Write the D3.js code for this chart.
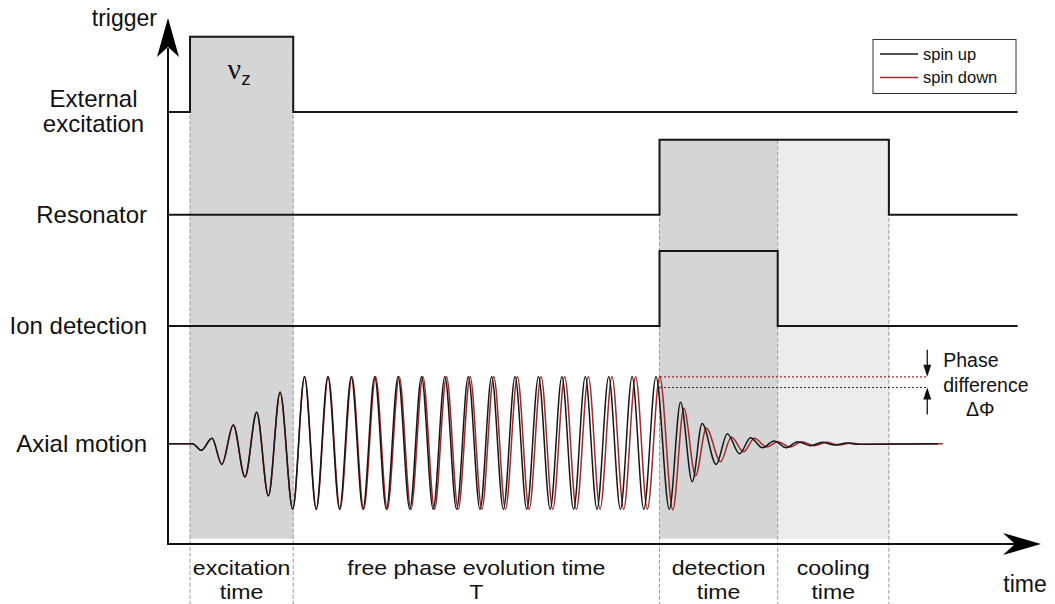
<!DOCTYPE html>
<html>
<head>
<meta charset="utf-8">
<script src="https://cdn.jsdelivr.net/npm/d3@7"></script>
<style>
  html, body { margin: 0; padding: 0; background: #fff; }
  svg { display: block; }
  text { font-family: "Liberation Sans", Arial, Helvetica, sans-serif; fill: #111; }
</style>
</head>
<body>
<svg id="chart" width="1055" height="604"></svg>
<script>
// ---------------- data (time in axial periods, levels in arbitrary units) ----------------
const channelNames = ["External excitation", "Resonator", "Ion detection", "Axial motion"];
const channelBase = [5.75, 4.38, 2.90, 1.335];
const pulseOn = [0.94, 21.0, 21.0];
const pulseOff = [5.35, 30.8, 26.05];
const pulseHeight = 1;
const traceStart = 0;
const traceEnd = 36.3;

const phaseNames = [["excitation", "time"], ["free phase evolution time", "T"], ["detection", "time"], ["cooling", "time"]];
const phaseStart = [0.94, 5.35, 21.0, 26.05];
const phaseEnd = [5.35, 21.0, 26.05, 30.8];
const phaseShadeTop = [6.75, null, 5.38, 5.38];
const phaseShadeColor = ["#d5d5d5", null, "#d5d5d5", "#ebeceb"];

const axialAmplitude = 0.89;
const spinUpT = [0, 1.05, 1.42, 1.88, 2.30, 2.79, 3.29, 3.79, 4.29, 4.79,
  5.33, 5.83, 6.33, 6.83, 7.33, 7.83, 8.33, 8.83, 9.33, 9.83, 10.33, 10.83, 11.33, 11.83,
  12.33, 12.83, 13.33, 13.83, 14.33, 14.83, 15.33, 15.83, 16.33, 16.83, 17.33, 17.83,
  18.33, 18.83, 19.33, 19.83, 20.33, 20.85,
  21.42, 21.90, 22.40, 22.82, 23.42, 23.90, 24.42, 24.89, 25.40, 25.89,
  26.42, 26.90, 27.45, 27.95, 28.50, 29.00, 29.50, 32.90];
const spinUpV = [0, 0, -0.10, 0.08, -0.31, 0.28, -0.50, 0.47, -0.78, 0.77,
  -0.98, 1.0, -0.98, 1.0, -0.98, 1.0, -0.98, 1.0, -0.98, 1.0, -0.98, 1.0, -0.98, 1.0,
  -0.98, 1.0, -0.98, 1.0, -0.98, 1.0, -0.98, 1.0, -0.98, 1.0, -0.98, 1.0,
  -0.98, 1.0, -0.98, 1.0, -0.98, 1.0,
  -0.98, 0.62, -0.57, 0.30, -0.31, 0.15, -0.15, 0.09, -0.06, 0.04,
  -0.06, 0.03, -0.03, 0.02, -0.02, 0.01, -0.01, 0];
const spinDownT = [0, 1.05, 1.42, 1.88, 2.30, 2.79, 3.29, 3.79, 4.29, 4.79,
  5.33, 5.84, 6.34, 6.85, 7.35, 7.86, 8.36, 8.87, 9.37, 9.88, 10.38, 10.89, 11.39, 11.90,
  12.40, 12.91, 13.41, 13.92, 14.42, 14.93, 15.43, 15.94, 16.44, 16.95, 17.45, 17.96,
  18.46, 18.97, 19.47, 19.98, 20.48, 21.01,
  21.57, 22.04, 22.54, 23.00, 23.61, 24.07, 24.59, 25.06, 25.58, 26.05,
  26.59, 27.07, 27.62, 28.12, 28.67, 29.17, 29.67, 33.10];
const spinDownV = [0, 0, -0.10, 0.08, -0.31, 0.28, -0.50, 0.47, -0.78, 0.77,
  -0.98, 1.0, -0.98, 1.0, -0.98, 1.0, -0.98, 1.0, -0.98, 1.0, -0.98, 1.0, -0.98, 1.0,
  -0.98, 1.0, -0.98, 1.0, -0.98, 1.0, -0.98, 1.0, -0.98, 1.0, -0.98, 1.0,
  -0.98, 1.0, -0.98, 1.0, -0.98, 1.0,
  -0.99, 0.53, -0.48, 0.23, -0.27, 0.10, -0.12, 0.08, -0.05, 0.03,
  -0.05, 0.03, -0.03, 0.02, -0.02, 0.01, -0.01, 0];

const seriesNames = ["spin up", "spin down"];
const seriesColors = ["#161616", "#a3282b"];

// phase difference marker: levels of the two traces at the start of detection
const phaseDiffStart = 21.02;
const phaseDiffEnd = 32.44;
const phaseDiffLevels = [1.0, 0.84]; // spin down, spin up
const phaseDiffText = ["Phase", "difference", "ΔΦ"];

// ---------------- drawing ----------------
const svg = d3.select("#chart");
const x = d3.scaleLinear().domain([0, 37.3]).range([168, 1041]);
const y = d3.scaleLinear().domain([0, 7]).range([544, 18]);
const axialY = v => y(channelBase[3] + axialAmplitude * v);

const lineCol = "#161616";

// shaded phases
phaseStart.forEach((s, i) => {
  if (!phaseShadeColor[i]) return;
  svg.append("rect")
    .attr("x", x(s)).attr("y", y(phaseShadeTop[i]) - 1)
    .attr("width", x(phaseEnd[i]) - x(s))
    .attr("height", y(0.07) - y(phaseShadeTop[i]) + 1)
    .attr("fill", phaseShadeColor[i]);
});

// dashed boundaries
const bounds = [0.94, 5.35, 21.0, 26.05, 30.8];
const boundTop = [6.75, 6.75, 5.38, 5.38, 5.38];
bounds.forEach((b, i) => {
  svg.append("line")
    .attr("x1", x(b)).attr("x2", x(b))
    .attr("y1", y(boundTop[i])).attr("y2", 604)
    .attr("stroke", "#9a9a9a").attr("stroke-width", 1)
    .attr("stroke-dasharray", "4,2");
});

// digital channels
const stepLine = d3.line().x(d => x(d[0])).y(d => y(d[1]));
pulseOn.forEach((on, i) => {
  const b = channelBase[i];
  const pts = [[traceStart, b], [on, b], [on, b + pulseHeight], [pulseOff[i], b + pulseHeight], [pulseOff[i], b], [traceEnd, b]];
  svg.append("path").attr("d", stepLine(pts))
    .attr("fill", "none").attr("stroke", lineCol).attr("stroke-width", 2)
    .attr("stroke-linejoin", "miter");
});

// axial motion traces
const curve = d3.line().x(d => x(d[0])).y(d => axialY(d[1])).curve(d3.curveMonotoneX);
const downPts = spinDownT.map((t, i) => [t, spinDownV[i]]);
const upPts = spinUpT.map((t, i) => [t, spinUpV[i]]);
svg.append("path").attr("d", curve(downPts)).attr("fill", "none")
  .attr("stroke", seriesColors[1]).attr("stroke-width", 1.5);
svg.append("path").attr("d", curve(upPts)).attr("fill", "none")
  .attr("stroke", seriesColors[0]).attr("stroke-width", 1.5);

// phase difference dotted lines
phaseDiffLevels.forEach((lv, i) => {
  svg.append("line")
    .attr("x1", x(phaseDiffStart)).attr("x2", x(phaseDiffEnd))
    .attr("y1", axialY(lv)).attr("y2", axialY(lv))
    .attr("stroke", i === 0 ? seriesColors[1] : "#333")
    .attr("stroke-width", 1.2).attr("stroke-dasharray", "2,2");
});
const ax = x(phaseDiffEnd);
const yTop = axialY(phaseDiffLevels[0]);
const yBot = axialY(phaseDiffLevels[1]);
svg.append("line").attr("x1", ax).attr("x2", ax).attr("y1", yTop - 27).attr("y2", yTop - 10)
  .attr("stroke", "#111").attr("stroke-width", 1.3);
svg.append("path").attr("d", `M${ax},${yTop} L${ax - 4},${yTop - 12} L${ax + 4},${yTop - 12} Z`).attr("fill", "#111");
svg.append("line").attr("x1", ax).attr("x2", ax).attr("y1", yBot + 10).attr("y2", yBot + 27)
  .attr("stroke", "#111").attr("stroke-width", 1.3);
svg.append("path").attr("d", `M${ax},${yBot} L${ax - 4},${yBot + 12} L${ax + 4},${yBot + 12} Z`).attr("fill", "#111");
svg.append("text").attr("x", ax + 16).attr("y", yTop - 10).attr("font-size", 19.5).text(phaseDiffText[0]);
svg.append("text").attr("x", ax + 16).attr("y", yTop + 15).attr("font-size", 19.5).text(phaseDiffText[1]);
svg.append("text").attr("x", ax + 53).attr("y", yTop + 39).attr("font-size", 19.5)
  .attr("text-anchor", "middle").text(phaseDiffText[2]);

// axes with arrowheads
const x0 = x(0), y0 = y(0);
svg.append("line").attr("x1", x0).attr("x2", x0).attr("y1", y0 + 1).attr("y2", y(6.6))
  .attr("stroke", "#111").attr("stroke-width", 2);
const yt = y(7);
svg.append("path").attr("d", `M${x0},${yt} L${x0 - 11},${yt + 39} L${x0},${yt + 29} L${x0 + 11},${yt + 39} Z`).attr("fill", "#000");
svg.append("line").attr("x1", x0 - 1).attr("x2", x(36.5)).attr("y1", y0).attr("y2", y0)
  .attr("stroke", "#111").attr("stroke-width", 2);
const xt = x(37.3);
svg.append("path").attr("d", `M${xt},${y0} L${xt - 38},${y0 - 11} L${xt - 26},${y0} L${xt - 38},${y0 + 11} Z`).attr("fill", "#000");

// axis titles
svg.append("text").attr("x", x0 - 11).attr("y", 26).attr("text-anchor", "end").attr("font-size", 23).text("trigger");
svg.append("text").attr("x", xt - 16).attr("y", 592).attr("text-anchor", "middle").attr("font-size", 23).text("time");

// channel labels
const labelX = 147;
svg.append("text").attr("x", 93.5).attr("y", y(channelBase[0]) - 5).attr("text-anchor", "middle").attr("font-size", 24).text(channelNames[0].split(" ")[0]);
svg.append("text").attr("x", 93.5).attr("y", y(channelBase[0]) + 20).attr("text-anchor", "middle").attr("font-size", 24).text(channelNames[0].split(" ")[1]);
[1, 2, 3].forEach(i => {
  svg.append("text").attr("x", labelX).attr("y", y(channelBase[i]) + 8)
    .attr("text-anchor", "end").attr("font-size", 24).text(channelNames[i]);
});

// nu_z label
const nuX = x((pulseOn[0] + pulseOff[0]) / 2);
const nu = svg.append("text").attr("x", nuX - 14).attr("y", 79);
nu.append("tspan").attr("font-family", "'Liberation Serif', 'DejaVu Serif', serif").attr("font-size", 30).text("ν");
nu.append("tspan").attr("font-size", 19).attr("dy", 6).text("z");

// phase labels below axis (slightly widened to match the reference lettering)
phaseNames.forEach((nm, i) => {
  const cx = x((phaseStart[i] + phaseEnd[i]) / 2);
  [575, 599].forEach((ty, k) => {
    const t = svg.append("text").attr("x", cx).attr("y", ty).attr("text-anchor", "middle")
      .attr("font-size", 21).text(nm[k]);
    const w = t.node().getComputedTextLength();
    t.attr("textLength", w * 1.1).attr("lengthAdjust", "spacingAndGlyphs");
  });
});

// legend
const lg = svg.append("g");
lg.append("rect").attr("x", 873).attr("y", 39.5).attr("width", 143).attr("height", 54)
  .attr("fill", "#fff").attr("stroke", "#333").attr("stroke-width", 1);
seriesNames.forEach((s, i) => {
  const ly = 54 + i * 23.5;
  lg.append("line").attr("x1", 880).attr("x2", 918).attr("y1", ly).attr("y2", ly)
    .attr("stroke", seriesColors[i]).attr("stroke-width", 1.5);
  lg.append("text").attr("x", 923).attr("y", ly + 5.5).attr("font-size", 16.5).text(s);
});
</script>
</body>
</html>
